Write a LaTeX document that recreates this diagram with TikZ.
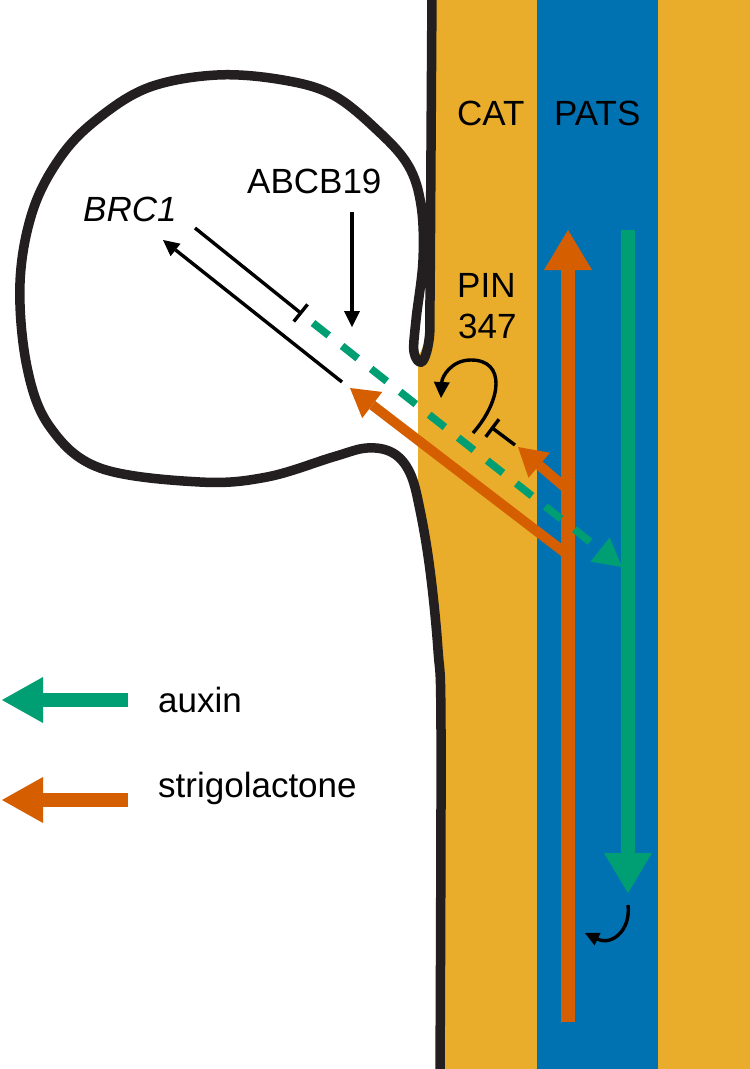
\documentclass[tikz,border=0pt]{standalone}
\usepackage{fontspec}
\setmainfont{Liberation Sans}
\usetikzlibrary{arrows.meta, positioning}
\definecolor{stemorange}{HTML}{E9AD2B}
\definecolor{patsblue}{HTML}{0072B2}
\definecolor{slred}{HTML}{D55E00}
\definecolor{auxgreen}{HTML}{009E73}
\definecolor{wallblack}{HTML}{231F20}
\tikzset{
    txt/.style={font=\fontsize{35}{41}\selectfont, inner sep=0pt, anchor=base west},
    wall/.style={draw=wallblack, line width=9.5pt, line join=round, line cap=round},
    reg/.style={draw=black, line width=3.4pt, -{Triangle[length=16pt, width=16pt, line width=0pt]}},
    inhib/.style={draw=black, line width=3.4pt, -{Bar[width=22pt]}},
    flow/.style={line width=14pt, -{Triangle[length=40pt, width=48pt, line width=0pt]}},
    flowthin/.style={draw=slred, line width=10pt, -{Triangle[length=28pt, width=33pt, line width=0pt]}},
    dashed-flow/.style={draw=auxgreen, line width=7.5pt, dash pattern=on 20pt off 17pt, -{Triangle[length=28pt, width=31pt, line width=0pt]}}
}
\begin{document}
\begin{tikzpicture}[x=1pt, y=-1pt]
    \useasboundingbox (0,0) rectangle (750,1069);
    \fill[white] (0,0) rectangle (750,1069);

    % stem tissues
    \fill[stemorange] (750,0) -- (432,0) -- (431,150) -- (430,330) -- (418,358) -- (418,495)
        -- plot[smooth] coordinates {(418,495) (423,520) (430,570) (438,650) (441,730) (440,1069)}
        -- (750,1069) -- cycle;
    \fill[patsblue] (537,0) rectangle (658,1069);

    % bud and stem outline
    \draw[wall] plot[smooth, tension=0.6] coordinates {(432,-10) (431,150) (430,300) (429,340) (422,362)
        (414,352) (416,320) (423,260) (421,205) (408,165) (377,130) (333,95) (283,80) (217,75)
        (150,87) (100,117) (62,155) (33,210) (20,283) (27,367) (50,427) (100,468) (200,482)
        (267,477) (333,457) (367,448) (393,453) (410,473) (420,510) (430,570) (438,650)
        (441,730) (440,1080)};

    % labels
    \node[txt] (cat) at (457,125) {CAT};
    \node[txt] (pats) at (554,125) {PATS};
    \node[txt] (pin) at (457,297) {PIN};
    \node[txt] (pinnum) at (458,338) {347};
    \node[txt] (abcb) at (247,193) {ABCB19};
    \node[txt, font=\fontsize{35}{41}\selectfont\itshape] (brc) at (83,221) {BRC1};
    \node[txt] (auxin) at (158,712) {auxin};
    \node[txt] (strigo) at (158,797) {strigolactone};

    % end points
    \coordinate (slTop) at (568,230);
    \coordinate (slBot) at (568,1022);
    \coordinate (auxTop) at (628,230);
    \coordinate (auxBot) at (628,893);
    \coordinate (slJoin) at (568,555);
    \coordinate (slBud) at (350,388);
    \coordinate (slSide) at (568,490);
    \coordinate (slPin) at (518,447);
    \coordinate (auxStart) at (313,323);
    \coordinate (auxEnd) at (622,567);
    \coordinate (brcFrom) at (342,382);
    \coordinate (brcTo) at (163,240);
    \coordinate (inhFrom) at (195,228);
    \coordinate (inhTo) at (302,314);
    \coordinate (abcbFrom) at (352,212);
    \coordinate (abcbTo) at (352,327);
    \coordinate (loopFrom) at (473,433);
    \coordinate (loopTo) at (441,398);
    \coordinate (pinFrom) at (515,445);
    \coordinate (pinTo) at (491,427);
    \coordinate (turnFrom) at (628,905);
    \coordinate (turnTo) at (585,933);

    % transport streams
    \draw[flow, draw=slred] (slBot) -- (slTop);
    \draw[flow, draw=auxgreen] (auxTop) -- (auxBot);
    \draw[flowthin] (slJoin) -- (slBud);
    \draw[flowthin] (slSide) -- (slPin);
    \draw[dashed-flow] (auxStart) -- (auxEnd);

    % regulation
    \draw[reg] (brcFrom) -- (brcTo);
    \draw[inhib] (inhFrom) -- (inhTo);
    \draw[reg] (abcbFrom) -- (abcbTo);
    \draw[reg] (loopFrom) .. controls (502,400) and (506,360) .. (471,360)
        .. controls (451,360) and (442,377) .. (loopTo);
    \draw[inhib] (pinFrom) -- (pinTo);
    \draw[reg, -{Triangle[length=14pt, width=14pt, line width=0pt]}] (turnFrom) .. controls (631,930) and (612,946) .. (turnTo);

    % legend
    \coordinate (auxKey) at (128,700);
    \coordinate (auxKeyTip) at (2,700);
    \coordinate (slKey) at (128,800);
    \coordinate (slKeyTip) at (2,800);
    \draw[flow, draw=auxgreen, -{Triangle[length=41pt, width=46pt, line width=0pt]}] (auxKey) -- (auxKeyTip);
    \draw[flow, draw=slred, -{Triangle[length=41pt, width=46pt, line width=0pt]}] (slKey) -- (slKeyTip);
\end{tikzpicture}
\end{document}
